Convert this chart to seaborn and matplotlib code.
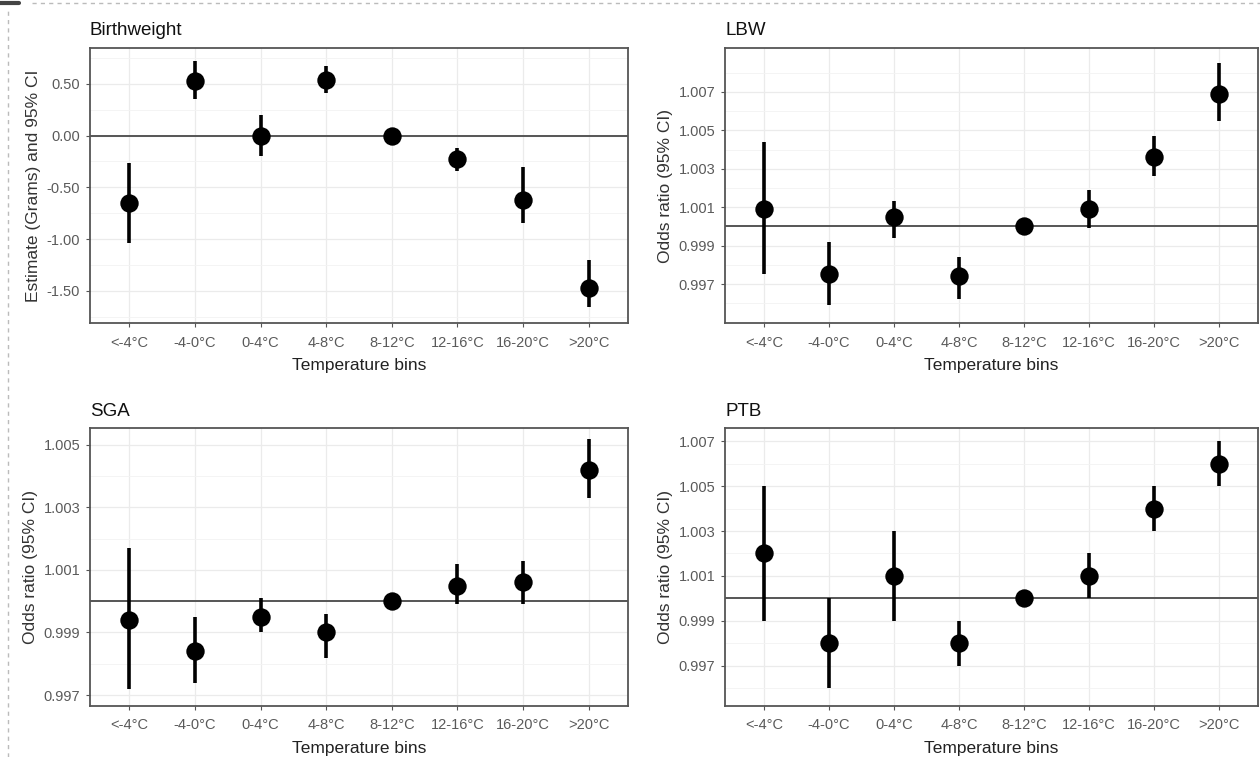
import numpy as np
import pandas as pd
import matplotlib
matplotlib.use('Agg')
import matplotlib.pyplot as plt
from matplotlib.lines import Line2D
from matplotlib.ticker import FixedLocator
import seaborn as sns

bins = ['<-4°C', '-4-0°C', '0-4°C', '4-8°C', '8-12°C', '12-16°C', '16-20°C', '>20°C']

bw_est = [-0.65, 0.53, 0.00, 0.54, 0.00, -0.23, -0.62, -1.47]
bw_lo = [-1.04, 0.35, -0.20, 0.41, 0.00, -0.34, -0.84, -1.66]
bw_hi = [-0.26, 0.72, 0.20, 0.67, 0.00, -0.12, -0.30, -1.20]

lbw_est = [1.0009, 0.9975, 1.0005, 0.9974, 1.0000, 1.0009, 1.0036, 1.0069]
lbw_lo = [0.9975, 0.9959, 0.9994, 0.9962, 1.0000, 0.9999, 1.0026, 1.0055]
lbw_hi = [1.0044, 0.9992, 1.0013, 0.9984, 1.0000, 1.0019, 1.0047, 1.0085]

sga_est = [0.9994, 0.9984, 0.9995, 0.9990, 1.0000, 1.0005, 1.0006, 1.0042]
sga_lo = [0.9972, 0.9974, 0.9990, 0.9982, 1.0000, 0.9999, 0.9999, 1.0033]
sga_hi = [1.0017, 0.9995, 1.0001, 0.9996, 1.0000, 1.0012, 1.0013, 1.0052]

ptb_est = [1.002, 0.998, 1.001, 0.998, 1.000, 1.001, 1.004, 1.006]
ptb_lo = [0.999, 0.996, 0.999, 0.997, 1.000, 1.000, 1.003, 1.005]
ptb_hi = [1.005, 1.000, 1.003, 0.999, 1.000, 1.002, 1.005, 1.007]

sns.set_theme(style='white')
plt.rcParams['font.family'] = ['Liberation Sans', 'DejaVu Sans']

fig = plt.figure(figsize=(12.6, 7.57), dpi=100)

panels = [
    ('Birthweight', bw_est, bw_lo, bw_hi, 'Estimate (Grams) and 95% CI', 0.0,
     [0.5, 0.0, -0.5, -1.0, -1.5], '%.2f', (-1.81, 0.846), [0.0714, 0.5733, 0.427, 0.3633]),
    ('LBW', lbw_est, lbw_lo, lbw_hi, 'Odds ratio (95% CI)', 1.0,
     [0.997, 0.999, 1.001, 1.003, 1.005, 1.007], '%.3f', (0.99497, 1.00929), [0.5754, 0.5733, 0.423, 0.3633]),
    ('SGA', sga_est, sga_lo, sga_hi, 'Odds ratio (95% CI)', 1.0,
     [0.997, 0.999, 1.001, 1.003, 1.005], '%.3f', (0.99665, 1.00554), [0.0714, 0.0674, 0.427, 0.3672]),
    ('PTB', ptb_est, ptb_lo, ptb_hi, 'Odds ratio (95% CI)', 1.0,
     [0.997, 0.999, 1.001, 1.003, 1.005, 1.007], '%.3f', (0.99522, 1.00758), [0.5754, 0.0674, 0.423, 0.3672]),
]

for title, est, lo, hi, ylab, ref, ticks, fmt, ylim, rect in panels:
    ax = fig.add_axes(rect)
    df = pd.DataFrame({'bin': bins, 'est': est, 'lo': lo, 'hi': hi})
    ax.axhline(ref, color='#555555', lw=1.4, zorder=2)
    ax.vlines(df['bin'], df['lo'], df['hi'], color='black', lw=2.6, zorder=3)
    sns.scatterplot(x='bin', y='est', data=df, ax=ax, color='black', s=175,
                    edgecolor='black', linewidth=0, zorder=4, legend=False)
    ax.set_xlim(-0.6, 7.6)
    ax.set_ylim(*ylim)
    ax.yaxis.set_major_locator(FixedLocator(ticks))
    ax.set_yticklabels([fmt % t for t in ticks])
    step = ticks[1] - ticks[0]
    minors = [t + step / 2 for t in ticks] + [ticks[0] - step / 2]
    ax.yaxis.set_minor_locator(FixedLocator(minors))
    ax.grid(True, which='major', color='#EBEBEB', lw=0.9)
    ax.grid(True, which='minor', axis='y', color='#F3F3F3', lw=0.6)
    ax.set_axisbelow(True)
    for sp in ax.spines.values():
        sp.set_color('#555555')
        sp.set_linewidth(1.3)
    ax.tick_params(axis='both', which='major', length=3, width=0.8, color='#555555',
                   labelsize=10.5, labelcolor='#5A5A5A', pad=4, bottom=True, left=True)
    ax.tick_params(axis='x', which='major', pad=6)
    ax.tick_params(axis='y', which='minor', length=0)
    ax.set_xlabel('Temperature bins', fontsize=12.5, color='#222222', labelpad=6)
    ax.set_ylabel(ylab, fontsize=12.5, color='#333333', labelpad=4)
    ax.set_title(title, loc='left', fontsize=13.5, color='#111111', pad=9)

# dotted frame of the screenshot
fig.add_artist(Line2D([0.025, 1.0], [0.996, 0.996], color='#BBBBBB', lw=1, ls=(0, (3, 3))))
fig.add_artist(Line2D([0.006, 0.006], [0.0, 0.99], color='#BBBBBB', lw=1, ls=(0, (3, 3))))
fig.add_artist(Line2D([0.0, 0.015], [0.996, 0.996], color='#444444', lw=3))

fig.savefig('out.png', dpi=100)
